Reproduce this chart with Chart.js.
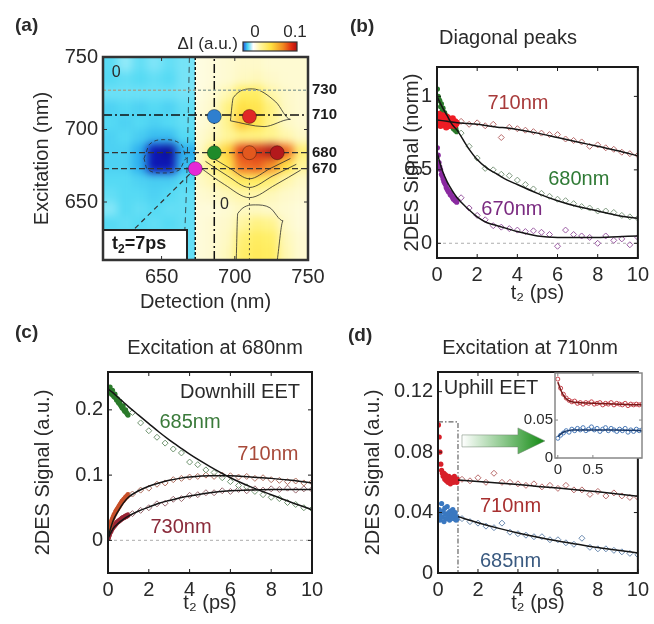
<!DOCTYPE html>
<html>
<head>
<meta charset="utf-8">
<script src="https://cdn.jsdelivr.net/npm/chart.js@4/dist/chart.umd.min.js"></script>
<style>
  body { margin: 0; background: #fff; }
  #page { position: relative; width: 654px; height: 624px; }
  #page canvas { position: absolute; left: 0; top: 0; }
</style>
</head>
<body>
<div id="page">
  <canvas id="chartA" width="654" height="624"></canvas>
  <canvas id="chartB" width="654" height="624"></canvas>
  <canvas id="chartC" width="654" height="624"></canvas>
  <canvas id="chartD" width="654" height="624"></canvas>
  <canvas id="chartInset" width="654" height="624"></canvas>
</div>
<script>
// ---- panel (a): 2D map at t2 = 7 ps ----
const detEdges = [610, 620, 630, 640, 650, 660, 673, 680, 690, 700, 710, 720, 730, 740, 750];
const excEdges = [750, 740, 730, 720, 710, 700, 690, 680, 670, 660, 650, 640, 630, 620, 610];
const dI = [
    [-0.034, -0.022, -0.032, -0.026, -0.032, -0.028, 0.008, 0.01, 0.012, 0.014, 0.014, 0.012, 0.012, 0.012],
    [-0.035, -0.032, -0.035, -0.032, -0.035, -0.028, 0.008, 0.01, 0.012, 0.016, 0.018, 0.014, 0.012, 0.012],
    [-0.03, -0.03, -0.03, -0.03, -0.03, -0.028, 0.008, 0.012, 0.02, 0.035, 0.035, 0.022, 0.014, 0.012],
    [-0.038, -0.035, -0.038, -0.035, -0.038, -0.032, 0.01, 0.014, 0.03, 0.045, 0.042, 0.03, 0.015, 0.012],
    [-0.035, -0.038, -0.035, -0.038, -0.035, -0.032, 0.01, 0.014, 0.028, 0.05, 0.042, 0.028, 0.015, 0.012],
    [-0.038, -0.035, -0.04, -0.045, -0.045, -0.035, 0.012, 0.018, 0.026, 0.03, 0.03, 0.028, 0.022, 0.015],
    [-0.038, -0.038, -0.05, -0.09, -0.095, -0.05, 0.014, 0.03, 0.048, 0.075, 0.078, 0.086, 0.066, 0.032],
    [-0.038, -0.038, -0.05, -0.09, -0.09, -0.045, 0.016, 0.03, 0.042, 0.065, 0.068, 0.06, 0.045, 0.026],
    [-0.035, -0.035, -0.038, -0.04, -0.04, -0.035, 0.015, 0.02, 0.03, 0.037, 0.037, 0.032, 0.022, 0.015],
    [-0.032, -0.035, -0.035, -0.038, -0.035, -0.032, 0.012, 0.014, 0.018, 0.022, 0.022, 0.018, 0.014, 0.012],
    [-0.025, -0.035, -0.032, -0.035, -0.032, -0.032, 0.01, 0.01, 0.012, 0.016, 0.016, 0.014, 0.012, 0.01],
    [-0.035, -0.032, -0.035, -0.032, -0.035, -0.032, 0.01, 0.012, 0.014, 0.025, 0.03, 0.028, 0.014, 0.01],
    [-0.032, -0.035, -0.032, -0.035, -0.032, -0.032, 0.01, 0.012, 0.016, 0.032, 0.036, 0.034, 0.018, 0.012],
    [-0.035, -0.032, -0.035, -0.032, -0.035, -0.032, 0.01, 0.012, 0.018, 0.034, 0.038, 0.036, 0.02, 0.012]
];
const markerDet = [686, 710, 686, 710, 729, 673];
const markerExc = [709, 709, 684, 684, 684, 673];
const markerColors = ["#2f7fcf", "#e02626", "#1f8a2a", "#e2581e", "#b3191c", "#e528d6"];
const hLineExc = [727, 710, 684, 673];
const hLineLabels = ["730", "710", "680", "670"];
const vLineDet = [673, 686];
const diagDet = [610, 673];
const nmTicks = [650, 700, 750];

// contour traces
const contourV1Det = [676, 693, 710, 728, 745];
const contourV1Exc = [674, 662, 653, 662, 672];
const contourV2Det = [680, 695, 710, 726, 742];
const contourV2Exc = [678, 668, 660, 668, 676];
const contourV3Det = [684, 697, 710, 724, 738];
const contourV3Exc = [681, 673, 666, 673, 680];
const contourUpDet = [697, 699, 712, 728, 738, 720, 697];
const contourUpExc = [706, 722, 728, 719, 707, 702, 706];
const contourLowDet = [701, 702, 714, 724, 733, 729];
const contourLowExc = [610, 642, 648, 646, 637, 610];
const contourBlobDet = [638, 642, 652, 664, 667, 662, 650, 640, 638];
const contourBlobExc = [680, 690, 693, 689, 680, 672, 670, 673, 680];
const contourZeroDet = [669, 668, 667, 665];
const contourZeroExc = [750, 700, 660, 610];
const contourMidDet = [710, 710];
const contourMidExc = [610, 668];

// ---- panels (b)-(d): kinetics ----
const tDense = [0.02, 0.06, 0.1, 0.14, 0.18, 0.22, 0.26, 0.3, 0.34, 0.38, 0.42, 0.46, 0.5, 0.54, 0.58, 0.62, 0.66, 0.7, 0.74, 0.78, 0.82, 0.86, 0.9, 0.94, 0.98];
const tSparse = [1.2, 1.6, 2, 2.4, 2.8, 3.2, 3.6, 4, 4.4, 4.8, 5.2, 5.6, 6, 6.4, 6.8, 7.2, 7.6, 8, 8.4, 8.8, 9.2, 9.6, 10];
const tFit = [0, 0.25, 0.5, 0.75, 1, 1.5, 2, 2.5, 3, 3.5, 4, 5, 6, 7, 8, 9, 10];
const tTicks = [0, 2, 4, 6, 8, 10];

const b710Dense = [0.86, 0.84, 0.88, 0.83, 0.80, 0.85, 0.82, 0.87, 0.81, 0.84, 0.83, 0.79, 0.86, 0.82, 0.85, 0.80, 0.84, 0.83, 0.81, 0.85, 0.82, 0.80, 0.83, 0.81, 0.82];
const b680Dense = [1.05, 1.0, 0.98, 0.97, 0.93, 0.95, 0.9, 0.92, 0.88, 0.89, 0.86, 0.87, 0.84, 0.85, 0.83, 0.82, 0.82, 0.80, 0.81, 0.79, 0.78, 0.79, 0.77, 0.78, 0.76];
const b670Dense = [0.65, 0.6, 0.55, 0.52, 0.5, 0.47, 0.46, 0.44, 0.42, 0.41, 0.4, 0.38, 0.37, 0.36, 0.35, 0.35, 0.33, 0.34, 0.32, 0.31, 0.3, 0.31, 0.29, 0.3, 0.28];
const b710Sparse = [0.83, 0.81, 0.82, 0.80, 0.81, 0.72, 0.79, 0.78, 0.77, 0.76, 0.75, 0.74, 0.74, 0.71, 0.70, 0.69, 0.66, 0.67, 0.65, 0.64, 0.62, 0.61, 0.60];
const b680Sparse = [0.75, 0.66, 0.58, 0.51, 0.50, 0.47, 0.46, 0.43, 0.40, 0.37, 0.34, 0.32, 0.30, 0.29, 0.27, 0.25, 0.24, 0.22, 0.22, 0.21, 0.19, 0.18, 0.17];
const b670Sparse = [0.31, 0.24, 0.19, 0.16, 0.12, 0.11, 0.10, 0.09, 0.08, 0.085, 0.075, 0.06, -0.02, 0.09, 0.06, 0.05, 0.04, 0.0, 0.05, 0.02, 0.03, -0.01, 0.04];
const b710Fit = [0.84, 0.835, 0.83, 0.825, 0.82, 0.815, 0.81, 0.80, 0.79, 0.785, 0.775, 0.75, 0.72, 0.69, 0.66, 0.63, 0.595];
const b680Fit = [1.0, 0.93, 0.87, 0.81, 0.77, 0.66, 0.57, 0.51, 0.47, 0.43, 0.40, 0.34, 0.29, 0.25, 0.22, 0.19, 0.17];
const b670Fit = [0.62, 0.50, 0.42, 0.36, 0.31, 0.24, 0.18, 0.14, 0.12, 0.10, 0.08, 0.05, 0.04, 0.04, 0.04, 0.045, 0.05];
const bTicks = [0, 0.5, 1];

const c685Dense = [0.232, 0.228, 0.235, 0.226, 0.224, 0.23, 0.222, 0.22, 0.224, 0.218, 0.215, 0.217, 0.212, 0.21, 0.213, 0.207, 0.205, 0.203, 0.206, 0.2, 0.198, 0.2, 0.196, 0.194, 0.192];
const c710Dense = [0.012, 0.018, 0.022, 0.026, 0.03, 0.033, 0.036, 0.039, 0.041, 0.044, 0.046, 0.048, 0.05, 0.052, 0.054, 0.056, 0.058, 0.06, 0.061, 0.063, 0.064, 0.066, 0.067, 0.068, 0.07];
const c730Dense = [0.004, 0.008, 0.012, 0.014, 0.017, 0.019, 0.021, 0.022, 0.024, 0.025, 0.027, 0.028, 0.029, 0.03, 0.031, 0.032, 0.033, 0.034, 0.035, 0.035, 0.036, 0.037, 0.037, 0.038, 0.039];
const c685Sparse = [0.196, 0.18, 0.168, 0.158, 0.149, 0.14, 0.134, 0.12, 0.116, 0.108, 0.104, 0.096, 0.09, 0.084, 0.082, 0.075, 0.07, 0.066, 0.064, 0.058, 0.055, 0.05, 0.048];
const c710Sparse = [0.071, 0.077, 0.08, 0.086, 0.088, 0.093, 0.095, 0.097, 0.098, 0.1, 0.098, 0.1, 0.099, 0.097, 0.098, 0.095, 0.096, 0.093, 0.092, 0.09, 0.091, 0.088, 0.089];
const c730Sparse = [0.041, 0.046, 0.05, 0.056, 0.057, 0.063, 0.064, 0.069, 0.07, 0.073, 0.073, 0.076, 0.075, 0.078, 0.076, 0.079, 0.077, 0.079, 0.078, 0.08, 0.077, 0.079, 0.078];
const c685Fit = [0.232, 0.226, 0.219, 0.212, 0.205, 0.192, 0.179, 0.166, 0.154, 0.143, 0.132, 0.113, 0.096, 0.082, 0.07, 0.058, 0.047];
const c710Fit = [0.005, 0.03, 0.045, 0.057, 0.066, 0.076, 0.083, 0.088, 0.092, 0.095, 0.097, 0.099, 0.099, 0.097, 0.095, 0.092, 0.088];
const c730Fit = [0.003, 0.018, 0.026, 0.032, 0.037, 0.045, 0.051, 0.057, 0.061, 0.065, 0.068, 0.073, 0.076, 0.077, 0.078, 0.078, 0.078];
const cTicks = [0, 0.1, 0.2];

const d710Dense = [0.098, 0.09, 0.08, 0.072, 0.068, 0.066, 0.064, 0.066, 0.062, 0.065, 0.061, 0.063, 0.06, 0.064, 0.062, 0.059, 0.063, 0.061, 0.062, 0.06, 0.064, 0.061, 0.062, 0.06, 0.062];
const d685Dense = [0.038, 0.042, 0.035, 0.04, 0.046, 0.037, 0.041, 0.034, 0.043, 0.039, 0.036, 0.044, 0.038, 0.04, 0.035, 0.041, 0.037, 0.039, 0.042, 0.036, 0.038, 0.04, 0.035, 0.037, 0.036];
const d710Sparse = [0.062, 0.061, 0.063, 0.06, 0.066, 0.06, 0.06, 0.059, 0.058, 0.059, 0.057, 0.058, 0.056, 0.058, 0.055, 0.055, 0.052, 0.054, 0.051, 0.053, 0.051, 0.05, 0.05];
const d685Sparse = [0.036, 0.034, 0.033, 0.031, 0.03, 0.033, 0.027, 0.026, 0.025, 0.024, 0.024, 0.022, 0.022, 0.02, 0.019, 0.023, 0.017, 0.016, 0.016, 0.015, 0.014, 0.013, 0.012];
const tFitD = [1, 2, 3, 4, 5, 6, 7, 8, 9, 10];
const d710Fit = [0.0615, 0.0605, 0.0595, 0.0585, 0.0573, 0.0562, 0.055, 0.0537, 0.0523, 0.0508];
const d685Fit = [0.0373, 0.0333, 0.0297, 0.0265, 0.0237, 0.0212, 0.019, 0.0168, 0.015, 0.0133];
const zoomBoxT = [0, 1, 1];
const zoomBoxV = [0.1, 0.1, 0];
const dTicks = [0, 0.04, 0.08, 0.12];

const tInset = [0, 0.04, 0.08, 0.12, 0.16, 0.2, 0.24, 0.28, 0.32, 0.36, 0.4, 0.44, 0.48, 0.52, 0.56, 0.6, 0.64, 0.68, 0.72, 0.76, 0.8, 0.84, 0.88, 0.92, 0.96, 1.0, 1.04, 1.08, 1.12, 1.16, 1.2];
const inset710 = [0.104, 0.092, 0.084, 0.079, 0.076, 0.074, 0.075, 0.072, 0.073, 0.071, 0.073, 0.072, 0.074, 0.071, 0.072, 0.073, 0.07, 0.072, 0.071, 0.073, 0.07, 0.072, 0.071, 0.07, 0.072, 0.069, 0.071, 0.07, 0.071, 0.07, 0.071];
const inset685 = [0.026, 0.03, 0.033, 0.036, 0.034, 0.038, 0.036, 0.039, 0.037, 0.04, 0.036, 0.038, 0.041, 0.037, 0.039, 0.035, 0.038, 0.04, 0.036, 0.039, 0.037, 0.035, 0.038, 0.036, 0.039, 0.034, 0.037, 0.035, 0.038, 0.036, 0.037];
const tInsetFit = [0, 0.05, 0.1, 0.15, 0.2, 0.3, 0.5, 0.8, 1.2];
const inset710Fit = [0.1, 0.088, 0.08, 0.076, 0.074, 0.073, 0.072, 0.071, 0.07];
const inset685Fit = [0.028, 0.032, 0.035, 0.036, 0.037, 0.037, 0.037, 0.037, 0.036];

// colour map of the 2D map (value -> rgb)
const cmapStops = [-0.1, -0.085, -0.07, -0.05, -0.035, -0.02, 0, 0.012, 0.025, 0.035, 0.045, 0.055, 0.065, 0.075, 0.085, 0.1];
const cmapRGB = [[10, 10, 140], [15, 30, 200], [25, 70, 225], [45, 175, 238], [85, 218, 244], [155, 237, 250], [255, 255, 255],
    [254, 250, 210], [255, 246, 160], [255, 238, 100], [255, 225, 70], [250, 175, 45], [240, 110, 35], [225, 65, 25], [185, 30, 25], [140, 15, 10]];

const FONT = "'Liberation Sans', Arial, Helvetica, sans-serif";
Chart.defaults.font.family = FONT;
Chart.defaults.font.size = 20;
Chart.defaults.color = "#2a2a2a";
Chart.defaults.animation = false;
Chart.defaults.responsive = false;
Chart.defaults.plugins.legend.display = false;
Chart.defaults.plugins.tooltip.enabled = false;

function colorOf(v) {
    if (v <= cmapStops[0]) return `rgb(${cmapRGB[0].join(",")})`;
    for (let i = 1; i < cmapStops.length; i++) {
        if (v <= cmapStops[i]) {
            const f = (v - cmapStops[i - 1]) / (cmapStops[i] - cmapStops[i - 1]);
            const c = cmapRGB[i].map((k, j) => Math.round(cmapRGB[i - 1][j] + (k - cmapRGB[i - 1][j]) * f));
            return `rgb(${c.join(",")})`;
        }
    }
    return `rgb(${cmapRGB[cmapRGB.length - 1].join(",")})`;
}

function pts(xs, ys) {
    return xs.map((x, i) => ({ x, y: ys[i] }));
}

function axis(min, max, tickVals, title, size, horizontal, fontSize = 20, pad = 5) {
    return {
        type: "linear", min, max,
        afterBuildTicks: s => { s.ticks = tickVals.map(v => ({ value: v })); },
        afterFit: s => { if (horizontal) s.height = size; else s.width = size; },
        grid: { display: false, drawTicks: false },
        border: { display: false },
        ticks: { padding: pad, font: { size: fontSize }, callback: v => String(v) },
        title: { display: !!title, text: title, padding: 0, font: { size: fontSize } }
    };
}

function dense(xs, ys, color, r = 2.6) {
    return { data: pts(xs, ys), pointRadius: r, pointBackgroundColor: color, pointBorderColor: color, pointBorderWidth: 0, order: 2 };
}

function sparse(xs, ys, color) {
    return { data: pts(xs, ys), pointStyle: "rectRot", pointRadius: 3, pointBackgroundColor: "rgba(255,255,255,0.7)", pointBorderColor: color, pointBorderWidth: 1, order: 2 };
}

function curve(xs, ys, color = "#151515", width = 1.5, dash = [], tension = 0.4) {
    return { data: pts(xs, ys), showLine: true, borderColor: color, borderWidth: width, borderDash: dash, pointRadius: 0, tension, cubicInterpolationMode: "monotone", order: 1 };
}

function straight(xs, ys, color, width, dash, order = 3) {
    return { data: pts(xs, ys), showLine: true, borderColor: color, borderWidth: width, borderDash: dash, pointRadius: 0, tension: 0, order };
}

// frame with inward ticks (matlab look)
const framePlugin = {
    id: "frame",
    afterDatasetsDraw(chart, args, o) {
        const { ctx, chartArea: a, scales: { x, y } } = chart;
        const len = o.tickLen ?? 4;
        ctx.save();
        ctx.strokeStyle = o.color || "#1a1a1a";
        ctx.lineWidth = 1;
        ctx.beginPath();
        x.ticks.forEach(t => {
            const p = x.getPixelForValue(t.value);
            ctx.moveTo(p, a.bottom); ctx.lineTo(p, a.bottom - len);
            ctx.moveTo(p, a.top); ctx.lineTo(p, a.top + len);
        });
        y.ticks.forEach(t => {
            const p = y.getPixelForValue(t.value);
            ctx.moveTo(a.left, p); ctx.lineTo(a.left + len, p);
            ctx.moveTo(a.right, p); ctx.lineTo(a.right - len, p);
        });
        ctx.stroke();
        ctx.lineWidth = o.width || 2;
        ctx.strokeRect(a.left, a.top, a.width, a.height);
        ctx.restore();
    }
};

// free text, either in pixels or in data units
const notesPlugin = {
    id: "notes",
    afterDraw(chart, args, o) {
        const { ctx, scales } = chart;
        (o.items || []).forEach(n => {
            const px = n.data ? scales.x.getPixelForValue(n.x) : n.x;
            const py = n.data ? scales.y.getPixelForValue(n.y) : n.y;
            ctx.save();
            ctx.font = n.font || `20px ${FONT}`;
            ctx.fillStyle = n.color || "#2a2a2a";
            ctx.textAlign = n.align || "center";
            ctx.textBaseline = "middle";
            ctx.fillText(n.text, px, py);
            ctx.restore();
        });
    }
};

// heat map cells, smoothed separately on each side of the sharp 673 nm edge
const heatPlugin = {
    id: "heat",
    beforeDatasetsDraw(chart) {
        const { ctx, chartArea: a, scales: { x, y } } = chart;
        const split = 6;
        const splitPx = x.getPixelForValue(detEdges[split]);
        [[0, split, a.left, splitPx], [split, dI[0].length, splitPx, a.right]].forEach(([c0, c1, left, right]) => {
            const off = document.createElement("canvas");
            off.width = chart.width; off.height = chart.height;
            const oc = off.getContext("2d");
            dI.forEach((row, r) => {
                let top = y.getPixelForValue(excEdges[r]);
                let bot = y.getPixelForValue(excEdges[r + 1]);
                if (r === 0) top -= 20;
                if (r === dI.length - 1) bot += 20;
                for (let c = c0; c < c1; c++) {
                    let l = x.getPixelForValue(detEdges[c]);
                    let rr = x.getPixelForValue(detEdges[c + 1]);
                    if (c === c0) l -= 20;
                    if (c === c1 - 1) rr += 20;
                    oc.fillStyle = colorOf(row[c]);
                    oc.fillRect(l, top, rr - l + 0.5, bot - top + 0.5);
                }
            });
            ctx.save();
            ctx.beginPath();
            ctx.rect(left, a.top, right - left, a.height);
            ctx.clip();
            ctx.filter = "blur(4px)";
            ctx.drawImage(off, 0, 0);
            ctx.restore();
        });
    }
};

// colour bar, t2 box and line labels of panel (a)
const panelAPlugin = {
    id: "panelA",
    afterDatasetsDraw(chart) {
        const { ctx, chartArea: a, scales: { y } } = chart;
        ctx.save();
        // t2 box
        ctx.fillStyle = "#fff";
        ctx.fillRect(a.left, a.bottom - 30, 84, 30);
        ctx.strokeStyle = "#222";
        ctx.lineWidth = 2;
        ctx.strokeRect(a.left, a.bottom - 30, 84, 30);
        ctx.fillStyle = "#1a1a1a";
        ctx.textBaseline = "middle";
        ctx.font = `bold 18px ${FONT}`;
        let tx = a.left + 9;
        const ty = a.bottom - 16;
        ctx.fillText("t", tx, ty);
        tx += ctx.measureText("t").width;
        ctx.font = `bold 12px ${FONT}`;
        ctx.fillText("2", tx, ty + 6);
        tx += ctx.measureText("2").width;
        ctx.font = `bold 18px ${FONT}`;
        ctx.fillText("=7ps", tx, ty);
        // line labels at right
        ctx.font = `bold 15px ${FONT}`;
        ctx.textAlign = "left";
        hLineExc.forEach((v, i) => ctx.fillText(hLineLabels[i], a.right + 4, y.getPixelForValue(v)));
        // colour bar
        const bx = 243, by = 42, bw = 54, bh = 9;
        const g = ctx.createLinearGradient(bx, 0, bx + bw, 0);
        [[0, "#2050e0"], [0.08, "#40d0f0"], [0.19, "#ffffff"], [0.32, "#fff6a0"], [0.52, "#ffe040"],
         [0.74, "#f08a20"], [0.9, "#e02a10"], [1, "#b01010"]].forEach(([s, c]) => g.addColorStop(s, c));
        ctx.fillStyle = g;
        ctx.fillRect(bx, by, bw, bh);
        ctx.lineWidth = 1.2;
        ctx.strokeStyle = "#333";
        ctx.strokeRect(bx, by, bw, bh);
        ctx.fillStyle = "#2a2a2a";
        ctx.textAlign = "center";
        ctx.font = `17px ${FONT}`;
        ctx.fillText("0", 255, 32);
        ctx.fillText("0.1", 295, 32);
        ctx.textAlign = "right";
        ctx.fillText("\u0394I (a.u.)", 238, 44);
        ctx.restore();
    }
};

// gradient arrow of panel (d)
const arrowPlugin = {
    id: "arrow",
    afterDatasetsDraw(chart, args, o) {
        const { ctx, scales: { x, y } } = chart;
        const x0 = x.getPixelForValue(o.from), x1 = x.getPixelForValue(o.to), yc = y.getPixelForValue(o.at);
        const head = 27, sh = 6, hh = 13;
        const g = ctx.createLinearGradient(x0, 0, x1, 0);
        g.addColorStop(0, "#ffffff");
        g.addColorStop(0.5, "#8cc88c");
        g.addColorStop(1, "#138a13");
        ctx.save();
        ctx.fillStyle = g;
        ctx.beginPath();
        ctx.moveTo(x0, yc - sh);
        ctx.lineTo(x1 - head, yc - sh);
        ctx.lineTo(x1 - head, yc - hh);
        ctx.lineTo(x1, yc);
        ctx.lineTo(x1 - head, yc + hh);
        ctx.lineTo(x1 - head, yc + sh);
        ctx.lineTo(x0, yc + sh);
        ctx.closePath();
        ctx.fill();
        ctx.strokeStyle = "rgba(110,130,110,0.5)";
        ctx.lineWidth = 1;
        ctx.stroke();
        ctx.restore();
    }
};

const whiteAreaPlugin = {
    id: "whiteArea",
    beforeDraw(chart) {
        const { ctx, chartArea: a } = chart;
        ctx.save();
        ctx.fillStyle = "#fff";
        ctx.fillRect(a.left, a.top, a.width, a.height);
        ctx.restore();
    }
};

const contourLine = (xs, ys, dash = []) => ({ ...curve(xs, ys, "#2a2a2a", 0.8, dash, 0.3), order: 4 });
const BOLD19 = `bold 19px ${FONT}`;

// ---- chart (a) ----
new Chart(document.getElementById("chartA"), {
    type: "scatter",
    data: {
        datasets: [
            { data: pts(markerDet, markerExc), pointRadius: 7, pointBackgroundColor: markerColors, pointBorderColor: "rgba(0,0,0,0.35)", pointBorderWidth: 1, order: 0 },
            straight([610, 750], [hLineExc[0], hLineExc[0]], "#98aa9c", 1.5, [3, 2]),
            straight([610, 750], [hLineExc[1], hLineExc[1]], "#111", 1.5, [9, 3, 2, 3]),
            straight([610, 750], [hLineExc[2], hLineExc[2]], "#333", 1.2, [6, 3]),
            straight([610, 750], [hLineExc[3], hLineExc[3]], "#333", 1.2, [6, 3]),
            straight([vLineDet[0], vLineDet[0]], [610, 750], "#111", 1.5, [3, 2]),
            straight([vLineDet[1], vLineDet[1]], [610, 750], "#111", 1.5, [9, 3, 2, 3]),
            straight(diagDet, diagDet, "#333", 1.2, [5, 4]),
            contourLine(contourV1Det, contourV1Exc),
            contourLine(contourV2Det, contourV2Exc),
            contourLine(contourV3Det, contourV3Exc),
            contourLine(contourUpDet, contourUpExc),
            contourLine(contourLowDet, contourLowExc),
            contourLine(contourBlobDet, contourBlobExc, [4, 3]),
            contourLine(contourZeroDet, contourZeroExc, [6, 4]),
            contourLine(contourMidDet, contourMidExc, [2, 3])
        ]
    },
    options: {
        layout: { padding: { left: 30, right: 346, top: 57, bottom: 310 } },
        scales: {
            x: axis(610, 750, nmTicks, "Detection (nm)", 54, true),
            y: axis(610, 750, nmTicks, "Excitation (nm)", 73, false)
        },
        plugins: {
            frame: { color: "#333", width: 2.5 },
            notes: {
                items: [
                    { text: "(a)", x: 15, y: 26, align: "left", font: BOLD19 },
                    { text: "0", x: 619, y: 739, data: true, font: `16px ${FONT}` },
                    { text: "0", x: 693, y: 648, data: true, font: `16px ${FONT}` }
                ]
            }
        }
    },
    plugins: [heatPlugin, panelAPlugin, framePlugin, notesPlugin]
});

// ---- chart (b) ----
new Chart(document.getElementById("chartB"), {
    type: "scatter",
    data: {
        datasets: [
            straight([0, 10], [0, 0], "#bbbbbb", 1.2, [3, 3]),
            sparse(tSparse, b710Sparse, "#b86a6a"),
            sparse(tSparse, b680Sparse, "#7f9a7f"),
            sparse(tSparse, b670Sparse, "#9a5aa2"),
            dense(tDense, b670Dense, "#8a2aa0"),
            dense(tDense, b680Dense, "#2a7a2a"),
            { ...dense(tDense, b710Dense, "#ee1c24", 3.2), order: 1.5 },
            curve(tFit, b710Fit),
            curve(tFit, b680Fit),
            curve(tFit, b670Fit)
        ]
    },
    options: {
        layout: { padding: { left: 400, right: 16, top: 67, bottom: 319 } },
        scales: {
            x: axis(0, 10, tTicks, "t\u2082 (ps)", 47, true),
            y: axis(-0.1, 1.2, bTicks, "2DES Signal (norm)", 37, false)
        },
        plugins: {
            frame: {},
            notes: {
                items: [
                    { text: "(b)", x: 350, y: 27, align: "left", font: BOLD19 },
                    { text: "Diagonal peaks", x: 508, y: 38 },
                    { text: "710nm", x: 4.03, y: 0.955, data: true, color: "#a83a3a" },
                    { text: "680nm", x: 7.06, y: 0.431, data: true, color: "#2f7a35" },
                    { text: "670nm", x: 3.73, y: 0.227, data: true, color: "#7a2a80" }
                ]
            }
        }
    },
    plugins: [framePlugin, notesPlugin]
});

// ---- chart (c) ----
new Chart(document.getElementById("chartC"), {
    type: "scatter",
    data: {
        datasets: [
            straight([0, 10], [0, 0], "#bbbbbb", 1.2, [3, 3]),
            sparse(tSparse, c685Sparse, "#6f946f"),
            sparse(tSparse, c710Sparse, "#b07060"),
            sparse(tSparse, c730Sparse, "#9a6a70"),
            dense(tDense, c685Dense, "#2a7a2a"),
            dense(tDense, c710Dense, "#c8502a"),
            dense(tDense, c730Dense, "#9a2535"),
            curve(tFit, c685Fit),
            curve(tFit, c710Fit),
            curve(tFit, c730Fit)
        ]
    },
    options: {
        layout: { padding: { left: 31, right: 342, top: 372, bottom: 9 } },
        scales: {
            x: axis(0, 10, tTicks, "t\u2082 (ps)", 42, true),
            y: axis(-0.05, 0.258, cTicks, "2DES Signal (a.u.)", 77, false)
        },
        plugins: {
            frame: {},
            notes: {
                items: [
                    { text: "(c)", x: 15, y: 333, align: "left", font: BOLD19 },
                    { text: "Excitation at 680nm", x: 215, y: 348 },
                    { text: "Downhill EET", x: 6.47, y: 0.227, data: true },
                    { text: "685nm", x: 4.02, y: 0.180, data: true, color: "#3a7a3a" },
                    { text: "710nm", x: 7.84, y: 0.131, data: true, color: "#a84a3a" },
                    { text: "730nm", x: 3.58, y: 0.0205, data: true, color: "#8a2a3a" }
                ]
            }
        }
    },
    plugins: [framePlugin, notesPlugin]
});

// ---- chart (d) ----
new Chart(document.getElementById("chartD"), {
    type: "scatter",
    data: {
        datasets: [
            straight(zoomBoxT, zoomBoxV, "#666", 1.2, [5, 2, 1.5, 2]),
            sparse(tSparse, d710Sparse, "#b86a6a"),
            sparse(tSparse, d685Sparse, "#6a8ab0"),
            dense(tDense, d710Dense, "#d8202a"),
            dense(tDense, d685Dense, "#3a78c0"),
            curve(tFitD, d710Fit),
            curve(tFitD, d685Fit)
        ]
    },
    options: {
        layout: { padding: { left: 361, right: 12, top: 372, bottom: 9 } },
        scales: {
            x: axis(0, 10, tTicks, "t\u2082 (ps)", 42, true),
            y: axis(0, 0.133, dTicks, "2DES Signal (a.u.)", 77, false)
        },
        plugins: {
            frame: {},
            arrow: { from: 1.2, to: 5.35, at: 0.0874 },
            notes: {
                items: [
                    { text: "(d)", x: 348, y: 336, align: "left", font: BOLD19 },
                    { text: "Excitation at 710nm", x: 530, y: 348 },
                    { text: "Uphill EET", x: 2.65, y: 0.1224, data: true },
                    { text: "710nm", x: 3.63, y: 0.0437, data: true, color: "#a83030" },
                    { text: "685nm", x: 3.63, y: 0.0073, data: true, color: "#3a5a80" }
                ]
            }
        }
    },
    plugins: [arrowPlugin, framePlugin, notesPlugin]
});

// ---- inset of (d) ----
new Chart(document.getElementById("chartInset"), {
    type: "scatter",
    data: {
        datasets: [
            { ...dense(tInset, inset710, "#c8404a", 2), pointBackgroundColor: "rgba(255,255,255,0.6)", pointBorderWidth: 1 },
            { ...dense(tInset, inset685, "#4a7ab8", 2), pointBackgroundColor: "rgba(255,255,255,0.6)", pointBorderWidth: 1 },
            curve(tInsetFit, inset710Fit, "#7a1a1a", 1.5),
            curve(tInsetFit, inset685Fit, "#1a3a6a", 1.5)
        ]
    },
    options: {
        layout: { padding: { left: 515, right: 12, top: 373, bottom: 146 } },
        scales: {
            x: axis(-0.04, 1.2, [0, 0.5], "", 20, true, 15, 3),
            y: axis(0, 0.112, [0, 0.05], "", 40, false, 15, 2)
        },
        plugins: { frame: { color: "#888", width: 1.5, tickLen: 3 } }
    },
    plugins: [whiteAreaPlugin, framePlugin]
});
</script>
</body>
</html>
